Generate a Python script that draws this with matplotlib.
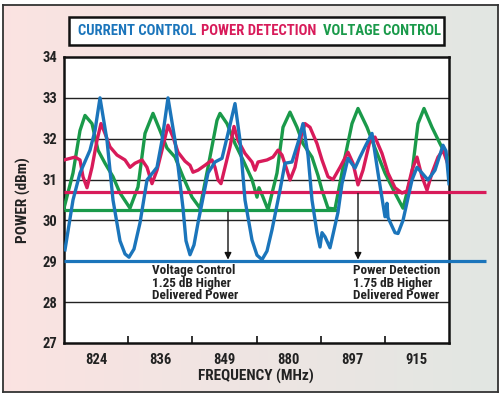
import numpy as np
import matplotlib
matplotlib.use('Agg')
import matplotlib.pyplot as plt
from matplotlib.patches import Rectangle

plt.rcParams['font.family'] = ['Roboto Condensed', 'DejaVu Sans']
plt.rcParams['font.stretch'] = 'condensed'
plt.rcParams['font.weight'] = 'bold'

# sweep position (0..385 across the six bands) and measured power in dBm
bands = ['824', '836', '849', '880', '897', '915']

current_x = [1, 9, 16, 26, 31, 36, 43, 49, 56, 61, 65, 70, 76, 83, 93, 98, 104, 111, 119, 122,
             126, 130, 134, 144, 151, 158, 164, 171, 176, 181, 188, 193, 198, 203, 208, 216, 221,
             228, 234, 239, 244, 248, 253, 256, 258, 261, 266, 274, 278, 284, 291, 296, 302, 308,
             314, 321, 323, 324, 331, 334, 339, 348, 353, 358, 364, 371, 379, 382, 385]
current_y = [29.28, 30.5, 31.16, 31.72, 32.2, 33.0, 31.96, 30.5, 29.5, 29.18, 29.1, 29.3, 29.94,
             30.99, 31.3, 31.96, 33.0, 31.96, 30.3, 29.5, 29.16, 29.4, 29.94, 31.16, 31.43, 31.52,
             32.13, 32.86, 31.96, 30.5, 29.52, 29.15, 29.04, 29.25, 29.77, 30.74, 31.4, 31.43,
             31.9, 32.37, 31.6, 30.5, 29.7, 29.35, 29.7, 29.6, 29.33, 30.2, 30.9, 31.52, 31.28,
             31.55, 31.85, 32.13, 31.16, 30.09, 30.42, 30.07, 29.7, 29.68, 30.0, 30.99, 31.3,
             31.16, 30.99, 31.23, 31.84, 31.7, 30.9]

power_x = [0, 11, 16, 19, 23, 28, 33, 37, 41, 46, 53, 61, 66, 71, 78, 83, 88, 93, 98, 104, 109,
           114, 121, 126, 129, 134, 141, 148, 151, 154, 157, 161, 166, 170, 174, 181, 188, 191,
           194, 203, 209, 214, 218, 223, 226, 231, 236, 241, 246, 253, 258, 264, 269, 276, 284,
           289, 294, 299, 306, 311, 318, 324, 331, 338, 343, 348, 353, 358, 363, 368, 374, 379, 385]
power_y = [31.48, 31.55, 31.48, 31.07, 30.8, 31.3, 31.96, 32.37, 32.13, 31.8, 31.6, 31.48, 31.3,
           31.4, 31.48, 31.3, 30.9, 31.23, 31.72, 32.33, 32.04, 31.67, 31.45, 31.35, 31.18,
           31.23, 31.35, 31.48, 31.3, 30.99, 30.9, 31.3, 31.8, 32.3, 31.96, 31.64, 31.43, 31.23,
           31.43, 31.48, 31.55, 31.72, 31.6, 31.23, 30.99, 31.3, 31.96, 32.37, 32.28, 31.88,
           31.48, 31.07, 31.0, 31.3, 31.67, 31.4, 30.87, 31.23, 31.95, 32.04, 31.64, 31.16, 30.8,
           30.67, 30.72, 31.23, 31.55, 31.07, 30.74, 31.16, 31.55, 31.72, 31.3]

voltage_x = [0, 9, 16, 21, 28, 34, 41, 49, 56, 66, 74, 81, 89, 96, 103, 111, 119, 128, 136, 144,
             153, 156, 163, 171, 179, 188, 193, 195, 199, 204, 213, 219, 226, 233, 239, 248, 254,
             258, 264, 271, 281, 288, 294, 303, 311, 321, 331, 339, 348, 354, 360, 368, 376, 383, 385]
voltage_y = [30.3, 31.16, 32.2, 32.57, 32.37, 31.72, 31.4, 31.07, 30.67, 30.3, 30.82, 32.13, 32.62,
             32.2, 31.77, 31.55, 31.07, 30.57, 30.3, 31.3, 32.45, 32.62, 32.37, 31.88, 31.48, 31.0,
             30.57, 30.8, 30.57, 30.26, 31.16, 32.28, 32.65, 32.28, 31.88, 31.55, 31.1, 30.74,
             30.3, 30.28, 31.55, 32.37, 32.74, 32.28, 31.77, 31.16, 30.67, 30.3, 31.16, 32.37,
             32.74, 32.28, 31.88, 31.55, 31.4]

# minimum delivered power levels
current_min = 29.0
power_min = 30.7
voltage_min = 30.25

BLUE = '#1b75bb'
RED = '#d81b5a'
GREEN = '#1a9a4a'
INK = '#222222'

fig = plt.figure(figsize=(5, 3.99), dpi=100)

# framed gradient background
bg = fig.add_axes([3 / 500, 1 - 392 / 399, 495 / 500, 387 / 399])
grad = np.linspace(0, 1, 256)[None, :, None]
left_c = np.array([0.985, 0.89, 0.885])[None, None, :]
right_c = np.array([0.885, 0.905, 0.89])[None, None, :]
bg.imshow(left_c * (1 - grad) + right_c * grad, aspect='auto', extent=[0, 1, 0, 1])
bg.set_xticks([])
bg.set_yticks([])
for s in bg.spines.values():
    s.set_linewidth(1.3)
    s.set_color('#333333')

# legend box
fig.patches.append(Rectangle((69 / 500, 1 - 45 / 399), 375 / 500, 28 / 399,
                             transform=fig.transFigure, facecolor='white',
                             edgecolor='#111111', linewidth=1.8, zorder=2))
for txt, col, xp in [('CURRENT CONTROL', BLUE, 78), ('POWER DETECTION', RED, 201),
                     ('VOLTAGE CONTROL', GREEN, 323)]:
    fig.text(xp / 500, 1 - 31 / 399, txt, color=col, fontsize=10.5, fontweight='bold',
             va='center', ha='left', zorder=3)

ax = fig.add_axes([64 / 500, 1 - 343 / 399, 385 / 500, 286 / 399])
ax.set_facecolor('white')
ax.set_xlim(0, 385)
ax.set_ylim(27, 34)
for v in range(28, 34):
    ax.axhline(v, color=INK, lw=1.0, zorder=1)

ax.plot(voltage_x, voltage_y, color=GREEN, lw=2.4, zorder=3, solid_joinstyle='round')
ax.plot(power_x, power_y, color=RED, lw=2.4, zorder=3, solid_joinstyle='round')
ax.plot(current_x, current_y, color=BLUE, lw=2.4, zorder=4, solid_joinstyle='round')

ax.plot([0, 273], [voltage_min, voltage_min], color=GREEN, lw=2.3, zorder=3,
        solid_capstyle='butt')
ax.plot([0, 422], [power_min, power_min], color=RED, lw=2.3, zorder=3,
        clip_on=False, solid_capstyle='butt')
ax.plot([0, 422], [current_min, current_min], color=BLUE, lw=2.3, zorder=4,
        clip_on=False, solid_capstyle='butt')

arrow = dict(arrowstyle='-|>', color='#111111', lw=1.0, mutation_scale=10, shrinkA=0, shrinkB=0)
ax.annotate('', xy=(164, current_min + 0.04), xytext=(164, voltage_min - 0.04),
            arrowprops=arrow, zorder=5)
ax.annotate('', xy=(294, current_min + 0.04), xytext=(294, power_min - 0.04),
            arrowprops=arrow, zorder=5)

ax.text(88, 28.93, 'Voltage Control\n1.25 dB Higher\nDelivered Power', fontsize=9.5,
        fontweight='bold', color=INK, va='top', ha='left', linespacing=0.95)
ax.text(289, 28.93, 'Power Detection\n1.75 dB Higher\nDelivered Power', fontsize=9.5,
        fontweight='bold', color=INK, va='top', ha='left', linespacing=0.95)

edges = np.linspace(0, 385, 7)
ax.set_xticks(edges[1:-1])
ax.set_xticklabels([])
ax.set_xticks((edges[:-1] + edges[1:]) / 2, minor=True)
ax.set_xticklabels(bands, minor=True)
ax.tick_params(axis='x', which='major', direction='in', length=5, width=1.2, color='#111111')
ax.tick_params(axis='x', which='minor', length=0, pad=7, labelsize=10.5, labelcolor=INK)
ax.set_yticks(range(27, 35))
ax.tick_params(axis='y', length=0, pad=5, labelsize=10.5, labelcolor=INK)
for s in ax.spines.values():
    s.set_linewidth(1.8)
    s.set_color('#111111')

fig.text(256 / 500, 1 - 376 / 399, 'FREQUENCY (MHz)', fontsize=11, fontweight='bold',
         ha='center', va='center', color=INK)
fig.text(23 / 500, 1 - 200 / 399, 'POWER (dBm)', fontsize=11, fontweight='bold',
         ha='center', va='center', rotation=90, color=INK)

fig.savefig('out.png', dpi=100)
